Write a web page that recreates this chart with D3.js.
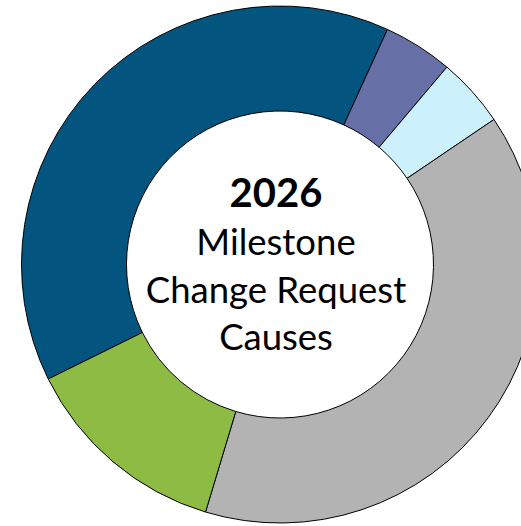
<!DOCTYPE html>
<html>
<head>
<meta charset="utf-8">
<script src="https://cdn.jsdelivr.net/npm/d3@7"></script>
<style>
    body { margin: 0; background: #fff; }
    svg { display: block; }
</style>
</head>
<body>
<div id="donut"></div>
<script>
    var causes = ['Cause 1', 'Cause 2', 'Cause 3', 'Cause 4', 'Cause 5']
    var counts = [9, 1, 1, 9, 3]
    var colors = ['#03557f', '#6670a6', '#ccf0fc', '#b3b3b3', '#8dbb43']
    var titleLines = ['Milestone', 'Change Request', 'Causes']
    var year = '2026'

    var width = 521
    var height = 526
    var cx = 280, cy = 264.5
    var outerR = 258.5, innerR = 153.5
    var start = 243.7 * Math.PI / 180

    var svg = d3.select('#donut')
        .append('svg')
        .attr('width', width)
        .attr('height', height)

    var g = svg.append('g')
        .attr('transform', `translate(${cx},${cy})`)

    var pie = d3.pie()
        .sort(null)
        .value(d => d)
        .startAngle(start)
        .endAngle(start + 2 * Math.PI)

    var arc = d3.arc()
        .innerRadius(innerR)
        .outerRadius(outerR)

    g.selectAll('.slice')
        .data(pie(counts))
        .enter()
        .append('path')
        .attr('class', 'slice')
        .attr('d', arc)
        .attr('fill', (d, i) => colors[i])
        .attr('stroke', '#000')
        .attr('stroke-width', 1)

    // centre label
    var tx = 276 - cx
    g.append('text')
        .attr('x', tx)
        .attr('y', 207.3 - cy)
        .attr('text-anchor', 'middle')
        .style('font-family', 'Lato, sans-serif')
        .style('font-weight', 'bold')
        .style('font-size', '40px')
        .attr('fill', '#000')
        .text(year)

    g.selectAll('.title-line')
        .data(titleLines)
        .enter()
        .append('text')
        .attr('class', 'title-line')
        .attr('x', tx)
        .attr('y', (d, i) => 255 + i * 47.5 - cy)
        .attr('text-anchor', 'middle')
        .style('font-family', 'Lato, sans-serif')
        .style('font-size', '36.5px')
        .attr('fill', '#000')
        .text(d => d)
</script>
</body>
</html>
